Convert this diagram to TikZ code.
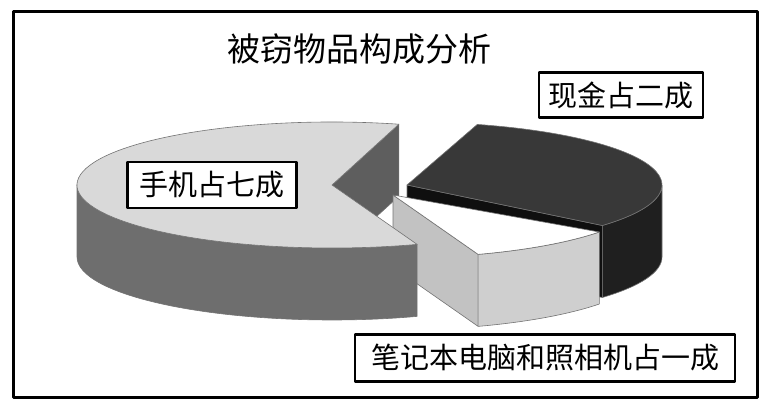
\documentclass[tikz,border=0pt]{standalone}
\usepackage{fontspec}
\newfontfamily\cjkfont{Noto Sans CJK SC}
\usepackage{xcolor}
\colorlet{colorPhoneTop}{black!15}
\colorlet{colorPhoneWall}{black!57}
\colorlet{colorPhoneCut}{black!63}
\colorlet{colorCashTop}{black!78}
\colorlet{colorCashWall}{black!88}
\colorlet{colorCashCut}{black!94}
\colorlet{colorLaptopTop}{white}
\colorlet{colorLaptopWall}{black!24}
\colorlet{colorLaptopFront}{black!19}
\usetikzlibrary{calc}
\tikzset{
  slice/.style={draw=black!55, line width=0.6pt},
  labelbox/.style={draw, line width=2.6pt, fill=white, inner sep=0pt,
    font=\cjkfont\fontsize{29pt}{29pt}\selectfont},
}

\begin{document}
\begin{tikzpicture}[x=1pt, y=1pt, line join=round, x radius=255, y radius=63]
\useasboundingbox (0,0) rectangle (768,413);
\draw[line width=3pt] (13,16) rectangle (757,401);

\coordinate (B) at (332,228);
\coordinate (D) at (407,228);
\coordinate (W) at (393,218);

% cash slice (back)
\filldraw[slice, fill=colorCashCut] (D) -- ($(D)+(-40:255 and 63)$) -- ++(0,-72) -- ($(D)+(0,-72)$) -- cycle;
\filldraw[slice, fill=colorCashWall] ($(D)+(-40:255 and 63)$) arc[start angle=-40, end angle=0] -- ++(0,-72) arc[start angle=0, end angle=-40] -- cycle;
\filldraw[slice, fill=colorCashTop] (D) -- ($(D)+(-40:255 and 63)$) arc[start angle=-40, end angle=74] -- cycle;

% inner cut of the phone slice
\filldraw[slice, fill=colorPhoneCut] (B) -- ($(B)+(74.8:255 and 63)$) -- ++(0,-72) -- ($(B)+(0,-72)$) -- cycle;

% laptop slice
\filldraw[slice, fill=colorLaptopWall] (W) -- ($(W)+(-70.5:255 and 63)$) -- ++(0,-72) -- ($(W)+(0,-72)$) -- cycle;
\filldraw[slice, fill=colorLaptopFront] ($(W)+(-70.5:255 and 63)$) arc[start angle=-70.5, end angle=-36] -- ++(0,-72) arc[start angle=-36, end angle=-70.5] -- cycle;
\filldraw[slice, fill=colorLaptopTop] (W) -- ($(W)+(-70.5:255 and 63)$) arc[start angle=-70.5, end angle=-36] -- cycle;

% phone slice (front)
\filldraw[slice, fill=colorPhoneWall] ($(B)+(180:255 and 63)$) arc[start angle=180, end angle=289.5] -- ++(0,-72) arc[start angle=289.5, end angle=180] -- cycle;
\filldraw[slice, fill=colorPhoneTop] (B) -- ($(B)+(74.8:255 and 63)$) arc[start angle=74.8, end angle=289.5] -- cycle;

% labels
\node[font=\cjkfont\fontsize{33pt}{33pt}\selectfont] (title) at (359,364) {被窃物品构成分析};
\node[labelbox, minimum width=164pt, minimum height=45pt] (cash) at (621,318) {现金占二成};
\node[labelbox, minimum width=169pt, minimum height=46pt] (phone) at (212,228) {手机占七成};
\node[labelbox, minimum width=380pt, minimum height=47pt] (laptop) at (545,55) {笔记本电脑和照相机占一成};
\end{tikzpicture}
\end{document}
